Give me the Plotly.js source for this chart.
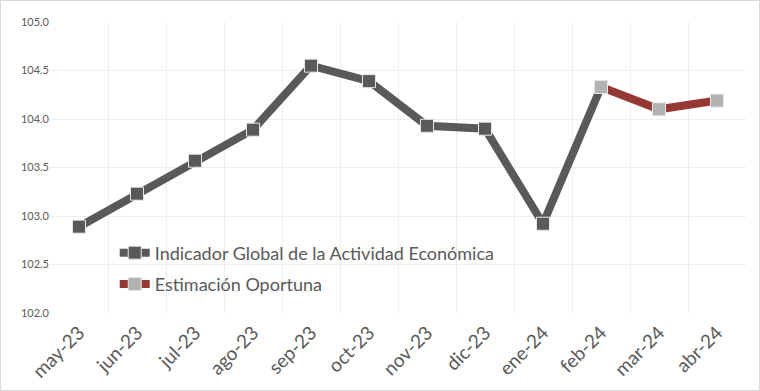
<!DOCTYPE html>
<html><head><meta charset="utf-8">
<script src="https://cdn.plot.ly/plotly-3.0.1.min.js"></script>
<style>html,body{margin:0;padding:0;background:#fff}#c{width:760px;height:391px;box-sizing:border-box;border:1px solid #d9d9d9}</style>
</head><body><div id="c"></div>
<script>
var months = ["may-23","jun-23","jul-23","ago-23","sep-23","oct-23","nov-23","dic-23","ene-24","feb-24","mar-24","abr-24"];
var igaeMonths = ["may-23","jun-23","jul-23","ago-23","sep-23","oct-23","nov-23","dic-23","ene-24","feb-24"];
var igaeValues = [102.89,103.23,103.57,103.89,104.55,104.39,103.93,103.90,102.92,104.33];
var eoMonths = ["feb-24","mar-24","abr-24"];
var eoValues = [104.33,104.10,104.19];
var yTicks = [102.0,102.5,103.0,103.5,104.0,104.5,105.0];

var font = "Lato, 'Open Sans', sans-serif";
var traces = [
  {x: igaeMonths, y: igaeValues, mode: "lines+markers", name: "Indicador Global de la Actividad Económica",
   legendgroup: "a",
   line: {color: "#595959", width: 8},
   marker: {symbol: "square", size: 13, color: "#595959", line: {color: "#e6e6e6", width: 1}}},
  {x: eoMonths, y: eoValues, mode: "lines+markers", name: "Estimación Oportuna",
   legendgroup: "b",
   line: {color: "#953735", width: 8},
   marker: {symbol: "square", size: 13, color: "#b2b2b2", line: {color: "#e6e6e6", width: 1}}}
];
var layout = {
  width: 760, height: 391,
  margin: {l: 49, r: 15, t: 21, b: 79},
  paper_bgcolor: "rgba(0,0,0,0)", plot_bgcolor: "#fff",
  font: {family: font, color: "#595959"},
  xaxis: {type: "category", categoryorder: "array", categoryarray: months, tickson: "boundaries",
    showgrid: true, gridcolor: "#eeeeee", gridwidth: 1, ticks: "", tickangle: -45, ticklabelstandoff: 4,
    tickfont: {size: 19, color: "#595959"}, showline: false, zeroline: false, range: [-0.5, 11.5]},
  yaxis: {range: [102, 105], tickvals: yTicks, ticktext: yTicks.map(function(v){return v.toFixed(1);}),
    showgrid: true, gridcolor: "#eeeeee", gridwidth: 1, zeroline: false, showline: false,
    tickfont: {size: 11, color: "#595959"}, ticks: ""},
  showlegend: true,
  legend: {x: 0.093, y: 0.27, xanchor: "left", yanchor: "top", bgcolor: "rgba(0,0,0,0)",
    font: {size: 18, color: "#595959"}, traceorder: "grouped", tracegroupgap: 5, itemwidth: 30}
};
Plotly.newPlot("c", traces, layout, {displayModeBar: false, staticPlot: true});
</script></body></html>
